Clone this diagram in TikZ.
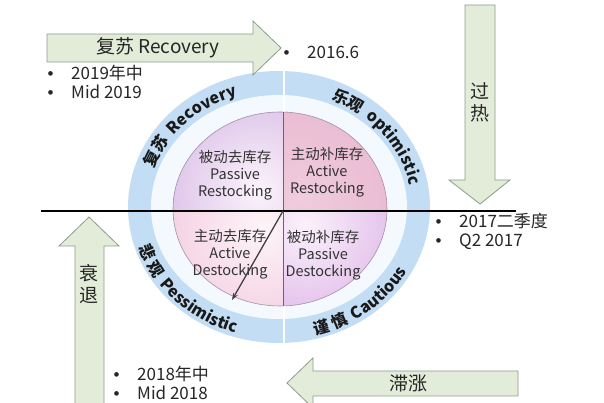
\documentclass[tikz,border=0pt]{standalone}
\usepackage{fontspec}
\setmainfont{Noto Sans CJK SC}
\newfontfamily\bulletfont{Liberation Sans}
\usetikzlibrary{arrows.meta,decorations.text}

\definecolor{arrowfill}{HTML}{E3ECD8}
\definecolor{arrowline}{HTML}{8E9C8E}
\definecolor{ringblue}{HTML}{C3DEF4}
\definecolor{ringpale}{HTML}{F3F9FD}
\definecolor{tlin}{HTML}{FBF3FB}
\definecolor{tlout}{HTML}{BE92D6}
\definecolor{trin}{HTML}{F0CCDD}
\definecolor{trout}{HTML}{E0A4C2}
\definecolor{blin}{HTML}{FDF4F8}
\definecolor{blout}{HTML}{EDB2CF}
\definecolor{brin}{HTML}{FBF1FB}
\definecolor{brout}{HTML}{C889D9}
\definecolor{pieline}{HTML}{A48EAC}

\newcommand{\blt}{\makebox[23.6pt][l]{\bulletfont •}}
\newcommand{\ringfont}{\bfseries\fontsize{16}{18}\selectfont}
\newcommand{\gapfont}{\bulletfont\fontsize{16}{18}\selectfont}

\begin{document}
\begin{tikzpicture}[x=1pt,y=1pt,
  blockarrow/.style={fill=arrowfill,draw=arrowline,line width=0.8pt},
  arrowlabel/.style={font=\fontsize{19}{22}\selectfont,text=black!85,align=center,inner sep=0pt},
  quadtext/.style={font=\fontsize{14.5}{17}\selectfont,text=black!80,align=center,inner sep=0pt},
  bullets/.style={font=\fontsize{17}{19}\selectfont,text=black!85,align=left,inner sep=0pt,anchor=west},
  ringtext/.style={decorate,decoration={text along path,text align=center,text color=black!90,text={#1}}}]
\clip (0,0) rectangle (604,403);
\fill[white] (0,0) rectangle (604,403);

% rings
\fill[ringblue] (279,196) ellipse [x radius=151pt, y radius=136pt];
\fill[ringpale] (279,196) ellipse [x radius=128pt, y radius=112pt];
\draw[white,line width=2pt] (284,60) -- (284,332);

% quadrants
\begin{scope}
\clip (280,194) ellipse [x radius=107pt, y radius=97pt];
\clip (283,192) rectangle (150,300);
\shade[inner color=tlin,outer color=tlout] (258,212) circle (190pt);
\end{scope}
\begin{scope}
\clip (280,194) ellipse [x radius=107pt, y radius=97pt];
\clip (283,192) rectangle (400,300);
\shade[inner color=trin,outer color=trout] (300,205) circle (220pt);
\end{scope}
\begin{scope}
\clip (280,194) ellipse [x radius=107pt, y radius=97pt];
\clip (283,192) rectangle (150,90);
\shade[inner color=blin,outer color=blout] (262,175) circle (180pt);
\end{scope}
\begin{scope}
\clip (280,194) ellipse [x radius=107pt, y radius=97pt];
\clip (283,192) rectangle (400,90);
\shade[inner color=brin,outer color=brout] (305,178) circle (190pt);
\end{scope}
\draw[pieline,line width=0.6pt] (280,194) ellipse [x radius=107pt, y radius=97pt];
\draw[black!60,line width=0.8pt] (283,97) -- (283,291);

% ring labels
\path[ringtext={|\ringfont|复苏 |\gapfont|^^^^2009|\ringfont|Recovery}] (279,196) ++(172:133pt and 117pt)
  arc[start angle=172,end angle=98,x radius=133pt,y radius=117pt];
\path[ringtext={|\ringfont|乐观 |\gapfont|^^^^2009|\ringfont|optimistic}] (279,196) ++(78:133pt and 117pt)
  arc[start angle=78,end angle=-2,x radius=133pt,y radius=117pt];
\path[ringtext={|\ringfont|悲|\gapfont|^^^^2009|\ringfont|观 |\gapfont|^^^^2009|\ringfont|Pessimistic}] (279,196) ++(188:147pt and 132pt)
  arc[start angle=188,end angle=262,x radius=147pt,y radius=132pt];
\path[ringtext={|\ringfont|谨|\gapfont|^^^^2009|\ringfont|慎 |\gapfont|^^^^2009|\ringfont|Cautious}] (279,196) ++(274:147pt and 132pt)
  arc[start angle=274,end angle=342,x radius=147pt,y radius=132pt];

% quadrant texts
\node[quadtext] (passrest) at (235,228) {被动去库存\\Passive\\Restocking};
\node[quadtext] (actrest) at (327,231) {主动补库存\\Active\\Restocking};
\node[quadtext] (actdest) at (230,149) {主动去库存\\Active\\Destocking};
\node[quadtext] (passdest) at (323,148) {被动补库存\\Passive\\Destocking};

% block arrows
\draw[blockarrow] (47,341) -- (47,369) -- (253,369) -- (253,382) -- (281,355) -- (253,328) -- (253,341) -- cycle;
\node[arrowlabel] (recovery) at (158,355) {复苏 Recovery};
\draw[blockarrow] (465,398) -- (495,398) -- (495,223) -- (510,223) -- (480,199) -- (449,223) -- (465,223) -- cycle;
\node[arrowlabel] (overheat) at (480,301) {过\\热};
\draw[blockarrow] (75,-3) -- (75,157) -- (59,157) -- (89,186) -- (119,157) -- (104,157) -- (104,-3) -- cycle;
\node[arrowlabel] (recession) at (89,119) {衰\\退};
\draw[blockarrow] (518,32) -- (313,32) -- (313,45) -- (287,20) -- (313,-5) -- (313,7) -- (518,7) -- cycle;
\node[arrowlabel] (stagflation) at (408,20) {滞涨};

% dates
\node[bullets] (jun2016) at (283.4,351) {\blt 2016.6};
\node[bullets] (mid2019) at (47.4,321.5) {\blt 2019年中\\\blt Mid 2019};
\node[bullets] (q22017) at (435.4,172) {\blt 2017二季度\\\blt Q2 2017};
\node[bullets] (mid2018) at (113.4,20.5) {\blt 2018年中\\\blt Mid 2018};

% axis and arrow
\coordinate (axisL) at (41,192);
\coordinate (axisR) at (516,192);
\draw[black,line width=1.6pt] (axisL) -- (axisR);
\coordinate (origin) at (283,192);
\coordinate (destock) at (232,103);
\draw[black!75,line width=1.3pt,-{Stealth[length=7pt,width=5pt]}] (origin) -- (destock);
\end{tikzpicture}
\end{document}
